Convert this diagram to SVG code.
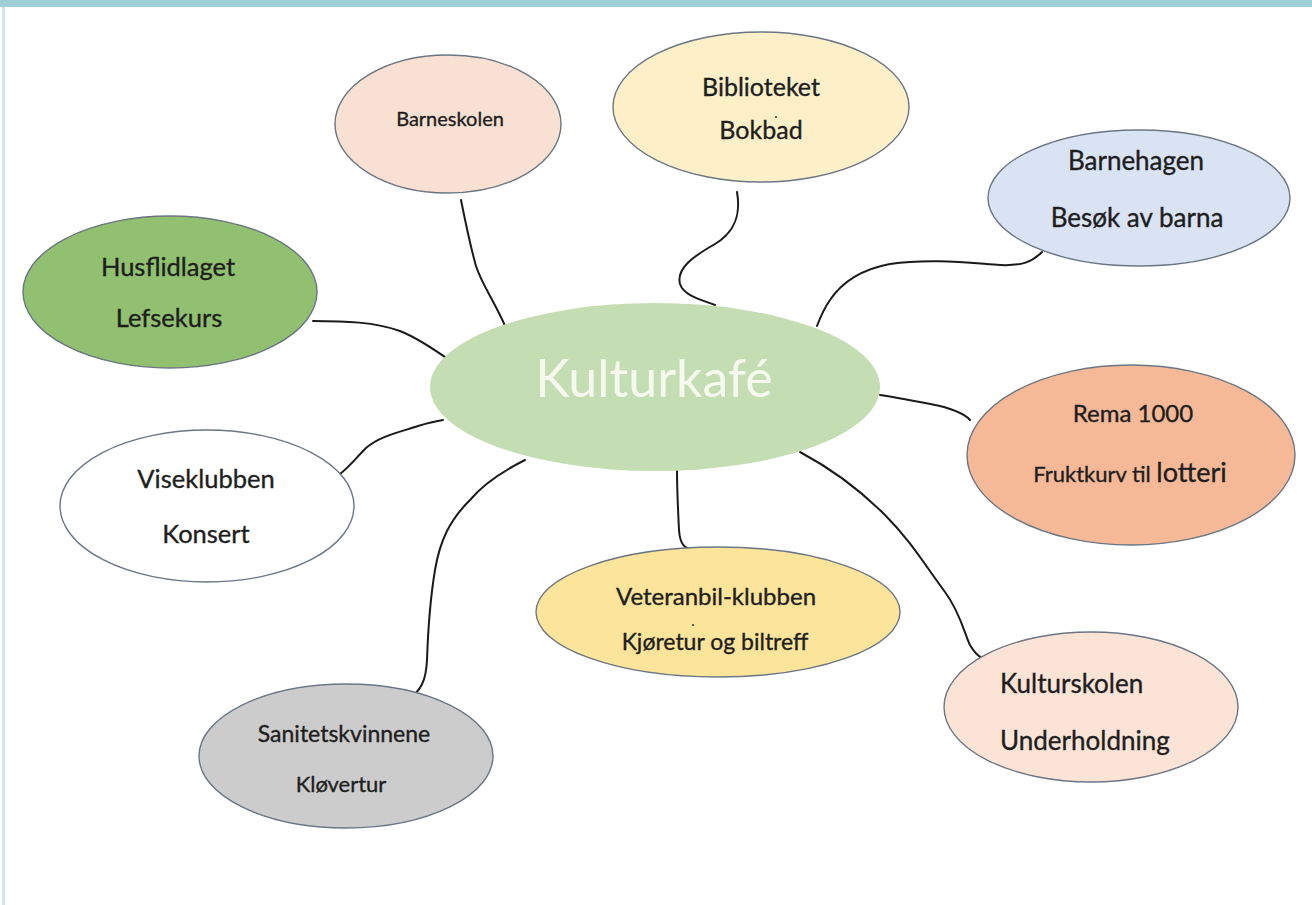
<svg xmlns="http://www.w3.org/2000/svg" width="1312" height="905" viewBox="0 0 1312 905">
<style>
.n{stroke:#6b7684;stroke-width:1.4}
.t{font-family:Lato,"Open Sans","Liberation Sans",sans-serif;fill:#1e1e1e;stroke:#1e1e1e;stroke-width:0.35;text-anchor:middle}
.c{fill:none;stroke:#1a1a1a;stroke-width:2;stroke-linecap:round;stroke-linejoin:round}
</style>
<rect x="0" y="0" width="1312" height="905" fill="#ffffff"/>
<rect x="0" y="0" width="1312" height="7" fill="#9fd0d8"/>
<rect x="2" y="7" width="3" height="898" fill="#cfe6ec"/>
<g id="connectors">
<path class="c" d="M461,200 C466,225 470,245 476,266 C482,285 494,300 506,328"/>
<path class="c" d="M737,192 C741,215 735,232 715,244 C694,256 676,268 680,284 C684,296 702,300 715,305"/>
<path class="c" d="M1042,252 C1032,262 1022,266 1000,265 C970,263 930,258 890,264 C858,270 840,285 830,300 C823,310 820,318 817,326"/>
<path class="c" d="M313,321 C345,321 375,322 400,331 C420,339 438,352 452,362"/>
<path class="c" d="M880,395 C900,398 915,401 940,406 C955,410 965,414 970,420"/>
<path class="c" d="M340,474 C350,466 356,458 366,448 C380,436 400,432 418,426 C428,423 436,421 443,420"/>
<path class="c" d="M525,460 C505,470 485,482 470,500 C450,520 440,540 435,570 C430,600 428,630 427,660 C426,680 422,690 406,702"/>
<path class="c" d="M677,470 C677,490 678,510 679,530 C680,545 685,548 692,550"/>
<path class="c" d="M800,452 C830,468 860,490 885,515 C910,540 925,565 945,592 C960,612 965,635 970,645 C974,652 978,656 982,658"/>
</g>
<g id="center">
<ellipse cx="655" cy="387" rx="225" ry="84" fill="#c4ddb3"/>
<text x="654" y="397" font-size="52" style="font-family:Lato,'Open Sans',sans-serif;fill:#f6f9ee;text-anchor:middle">Kulturkafé</text>
</g>
<g id="barneskolen">
<ellipse class="n" cx="448" cy="124" rx="113" ry="69" fill="#f8e1d2"/>
<text class="t" x="450" y="126" font-size="20">Barneskolen</text>
</g>
<g id="biblioteket">
<ellipse class="n" cx="761" cy="107" rx="148" ry="75" fill="#fdf0c9"/>
<text class="t" x="761" y="96" font-size="25">Biblioteket</text>
<text class="t" x="761" y="139" font-size="25">Bokbad</text>
<circle cx="776" cy="117" r="1" fill="#333"/>
</g>
<g id="barnehagen">
<ellipse class="n" cx="1139" cy="198" rx="151" ry="68" fill="#dae3f3"/>
<text class="t" x="1136" y="170" font-size="26">Barnehagen</text>
<text class="t" x="1137" y="227" font-size="26">Besøk av barna</text>
</g>
<g id="husflidlaget">
<ellipse class="n" cx="170" cy="292" rx="147" ry="76" fill="#91c070"/>
<text class="t" x="168" y="276" font-size="25.5">Husflidlaget</text>
<text class="t" x="169" y="327" font-size="25.5">Lefsekurs</text>
</g>
<g id="rema">
<ellipse class="n" cx="1131" cy="455" rx="164" ry="90" fill="#f5b998"/>
<text class="t" x="1133" y="422" font-size="24">Rema 1000</text>
<text class="t" x="1130" y="482" font-size="22">Fruktkurv til <tspan font-size="27">lotteri</tspan></text>
</g>
<g id="viseklubben">
<ellipse class="n" cx="207" cy="506" rx="147" ry="76" fill="#ffffff"/>
<text class="t" x="206" y="488" font-size="25.5">Viseklubben</text>
<text class="t" x="206" y="543" font-size="25.5">Konsert</text>
</g>
<g id="veteranbil">
<ellipse class="n" cx="718" cy="612" rx="182" ry="65" fill="#fde49b"/>
<text class="t" x="716" y="605" font-size="24">Veteranbil-klubben</text>
<circle cx="693" cy="625" r="1" fill="#333"/>
<text class="t" x="715" y="650" font-size="23">Kjøretur og biltreff</text>
</g>
<g id="sanitetskvinnene">
<ellipse class="n" cx="346" cy="756" rx="147" ry="72" fill="#cccccc"/>
<text class="t" x="344" y="742" font-size="23">Sanitetskvinnene</text>
<text class="t" x="341" y="792" font-size="22">Kløvertur</text>
</g>
<g id="kulturskolen">
<ellipse class="n" cx="1091" cy="707" rx="147" ry="75" fill="#fbe3d6"/>
<text class="t" x="1000" y="693" font-size="26" style="text-anchor:start">Kulturskolen</text>
<text class="t" x="1000" y="750" font-size="26" style="text-anchor:start">Underholdning</text>
</g>
</svg>
